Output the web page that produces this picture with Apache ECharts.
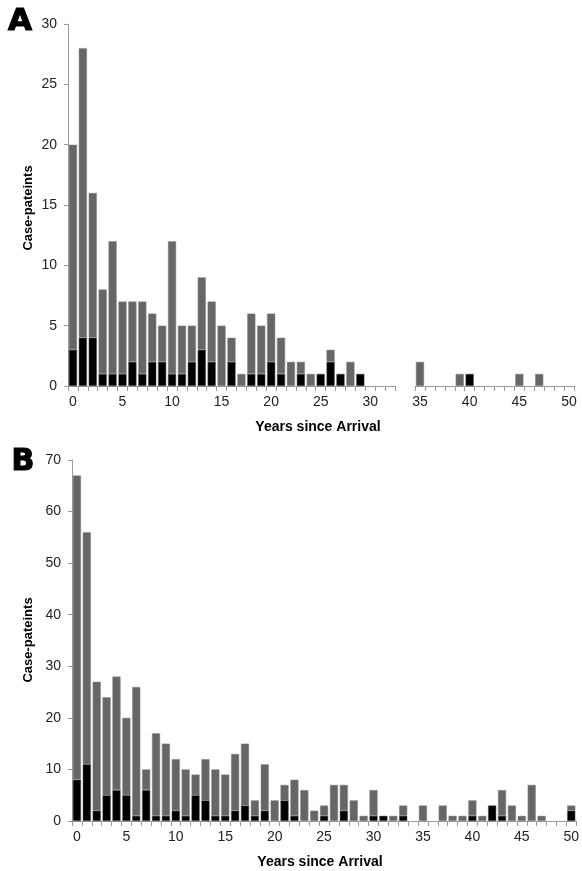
<!DOCTYPE html>
<html>
<head>
<meta charset="utf-8">
<script src="https://cdn.jsdelivr.net/npm/echarts@6/dist/echarts.min.js"></script>
<style>html,body{margin:0;padding:0;background:#fff;}#chart{width:582px;height:871px;}</style>
</head>
<body>
<div id="chart"></div>
<script>
// Panel A, left section (years 0-32)
const yearsA1 = ['0','1','2','3','4','5','6','7','8','9','10','11','12','13','14','15','16','17','18','19','20','21','22','23','24','25','26','27','28','29','30','31','32'];
const totalA1 = [20,28,16,8,12,7,7,7,6,5,12,5,5,9,7,5,4,1,6,5,6,4,2,2,1,1,3,1,2,1,0,0,0];
const blackA1 = [3,4,4,1,1,1,2,1,2,2,1,1,2,3,2,0,2,0,1,1,2,1,0,1,0,1,2,1,0,1,0,0,0];
// Panel A, right section (years 35-50)
const yearsA2 = ['35','36','37','38','39','40','41','42','43','44','45','46','47','48','49','50'];
const totalA2 = [2,0,0,0,1,1,0,0,0,0,1,0,1,0,0,0];
const blackA2 = [0,0,0,0,0,1,0,0,0,0,0,0,0,0,0,0];
// Panel B (years 0-50)
const yearsB = ['0','1','2','3','4','5','6','7','8','9','10','11','12','13','14','15','16','17','18','19','20','21','22','23','24','25','26','27','28','29','30','31','32','33','34','35','36','37','38','39','40','41','42','43','44','45','46','47','48','49','50'];
const totalB = [67,56,27,24,28,20,26,10,17,15,12,10,9,12,10,9,13,15,4,11,4,7,8,6,2,3,7,7,4,1,6,1,1,3,0,3,0,3,1,1,4,1,3,6,3,1,7,1,0,0,3];
const blackB = [8,11,2,5,6,5,1,6,1,1,2,1,5,4,1,1,2,3,1,2,0,4,1,0,0,1,0,2,0,0,1,1,0,1,0,0,0,0,0,0,1,0,3,1,0,0,0,0,0,0,2];

const GRAY = '#666666', BLACK = '#000000', AXIS = '#9a9a9a', LABEL = '#222222';
const FONT = 'Liberation Sans, Arial, sans-serif';

const nz = v => (v === 0 ? null : v);
const grayOf = (t, b) => t.map((v, i) => nz(v - b[i]));

function xAxis(gridIndex, data) {
  return {
    type: 'category', gridIndex, data,
    axisLine: { show: true, lineStyle: { color: AXIS, width: 1 } },
    axisTick: { show: true, interval: 0, length: 5, lineStyle: { color: AXIS } },
    axisLabel: { interval: 4, margin: 9, color: LABEL, fontSize: 14, fontFamily: FONT },
    splitLine: { show: false }
  };
}
function yAxis(gridIndex, max, interval, show) {
  return {
    type: 'value', gridIndex, min: 0, max, interval, show,
    axisLine: { show: true, lineStyle: { color: AXIS, width: 1 } },
    axisTick: { show: true, length: 4, lineStyle: { color: AXIS } },
    axisLabel: { margin: 11, color: LABEL, fontSize: 14, fontFamily: FONT },
    splitLine: { show: false }
  };
}
function bars(idx, black, gray, stack) {
  return [
    { type: 'bar', xAxisIndex: idx, yAxisIndex: idx, stack, data: black.map(nz),
      barCategoryGap: '18%', itemStyle: { color: BLACK, borderColor: '#555', borderWidth: 0.5 }, silent: true },
    { type: 'bar', xAxisIndex: idx, yAxisIndex: idx, stack, data: gray,
      barCategoryGap: '18%', itemStyle: { color: GRAY, borderColor: '#8a8a8a', borderWidth: 0.5 }, silent: true }
  ];
}

const chart = echarts.init(document.getElementById('chart'), null, { renderer: 'canvas' });
chart.setOption({
  animation: false,
  backgroundColor: '#fff',
  grid: [
    { left: 68, top: 24, width: 327, height: 362 },
    { left: 415, top: 24, width: 159, height: 362 },
    { left: 72, top: 460, width: 507, height: 361 }
  ],
  xAxis: [xAxis(0, yearsA1), xAxis(1, yearsA2), xAxis(2, yearsB)],
  yAxis: [yAxis(0, 30, 5, true), yAxis(1, 30, 5, false), yAxis(2, 70, 10, true)],
  series: [
    ...bars(0, blackA1, grayOf(totalA1, blackA1), 'a1'),
    ...bars(1, blackA2, grayOf(totalA2, blackA2), 'a2'),
    ...bars(2, blackB, grayOf(totalB, blackB), 'b')
  ],
  graphic: [
    { type: 'text', x: 20, y: 22, style: { text: 'A', font: '900 31px DejaVu Sans', fill: '#000', stroke: '#000', lineWidth: 1.2, textAlign: 'center', textVerticalAlign: 'middle' } },
    { type: 'text', x: 23, y: 462, style: { text: 'B', font: '900 30px DejaVu Sans', fill: '#000', stroke: '#000', lineWidth: 1.2, textAlign: 'center', textVerticalAlign: 'middle' } },
    { type: 'text', x: 28, y: 208, rotation: Math.PI / 2, style: { text: 'Case-pateints', font: 'bold 13px Liberation Sans', fill: '#000', textAlign: 'center', textVerticalAlign: 'middle' } },
    { type: 'text', x: 28, y: 640, rotation: Math.PI / 2, style: { text: 'Case-pateints', font: 'bold 13px Liberation Sans', fill: '#000', textAlign: 'center', textVerticalAlign: 'middle' } },
    { type: 'text', x: 318, y: 427, style: { text: 'Years since Arrival', font: 'bold 14px Liberation Sans', fill: '#000', textAlign: 'center', textVerticalAlign: 'middle' } },
    { type: 'text', x: 320, y: 862, style: { text: 'Years since Arrival', font: 'bold 14px Liberation Sans', fill: '#000', textAlign: 'center', textVerticalAlign: 'middle' } }
  ]
});
</script>
</body>
</html>
